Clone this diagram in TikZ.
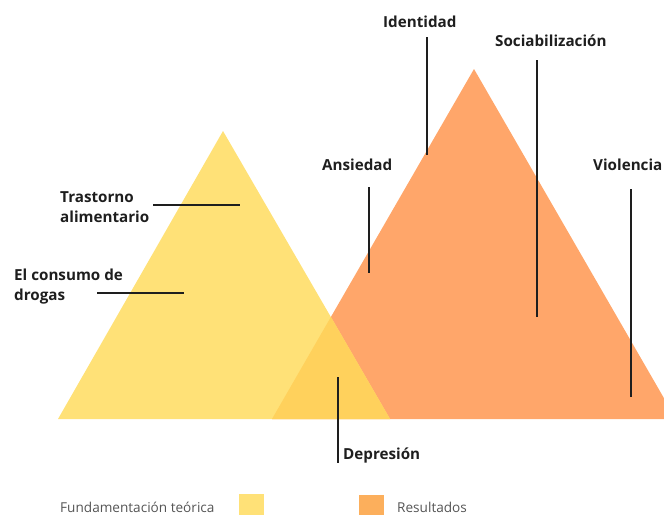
\documentclass[tikz,border=0pt]{standalone}
\usepackage{fontspec}
\setmainfont{Open Sans}
\definecolor{yel}{HTML}{FFE177}
\definecolor{ora}{HTML}{FFA66A}
\definecolor{ovl}{HTML}{FFD15C}
\definecolor{legora}{HTML}{FCAF5C}
\definecolor{ink}{HTML}{1E1E1E}
\definecolor{leggray}{HTML}{555555}
\tikzset{
  lbl/.style={anchor=base west, inner sep=0pt, font=\fontsize{15.2}{20}\selectfont\bfseries, text=ink, align=left},
  leg/.style={anchor=base west, inner sep=0pt, font=\fontsize{13.6}{16}\selectfont, text=leggray},
  leader/.style={draw=ink, line width=1.6pt},
}
\begin{document}
\begin{tikzpicture}[x=1pt,y=-1pt]
\useasboundingbox (0,0) rectangle (664,515);
\begin{scope}
\clip (0,0) rectangle (664,515);
% orange triangle
\fill[ora] (474,69) -- (272,419) -- (676,419) -- cycle;
% yellow triangle
\fill[yel] (223,131) -- (58,419) -- (390,419) -- cycle;
% overlap
\begin{scope}
\clip (474,69) -- (272,419) -- (676,419) -- cycle;
\fill[ovl] (223,131) -- (58,419) -- (390,419) -- cycle;
\end{scope}
\end{scope}
% labels
\node[lbl] (tra) at (60,222) {Trastorno\\alimentario};
\node[lbl] (dro) at (14,300) {El consumo de\\drogas};
\node[lbl] (dep) at (343,459) {Depresión};
\node[lbl] (ans) at (322,170) {Ansiedad};
\node[lbl] (ide) at (383,27) {Identidad};
\node[lbl] (soc) at (495,46) {Sociabilización};
\node[lbl] (vio) at (593,170) {Violencia};
% leader coordinates
\coordinate (tra1) at (153,205); \coordinate (tra2) at (240,205);
\coordinate (dro1) at (97,293);  \coordinate (dro2) at (184,293);
\coordinate (dep1) at (338,377); \coordinate (dep2) at (338,463);
\coordinate (ans1) at (369,187); \coordinate (ans2) at (369,273);
\coordinate (ide1) at (427,37);  \coordinate (ide2) at (427,155);
\coordinate (soc1) at (537,60);  \coordinate (soc2) at (537,317);
\coordinate (vio1) at (631,189); \coordinate (vio2) at (631,397);
\draw[leader] (tra1) -- (tra2);
\draw[leader] (dro1) -- (dro2);
\draw[leader] (dep1) -- (dep2);
\draw[leader] (ans1) -- (ans2);
\draw[leader] (ide1) -- (ide2);
\draw[leader] (soc1) -- (soc2);
\draw[leader] (vio1) -- (vio2);
% legend
\node[leg] (l1) at (60,512) {Fundamentación teórica};
\fill[yel] (239,494) rectangle (264,515);
\fill[legora] (359,495) rectangle (384,515);
\node[leg] (l2) at (397,512) {Resultados};
\end{tikzpicture}
\end{document}
